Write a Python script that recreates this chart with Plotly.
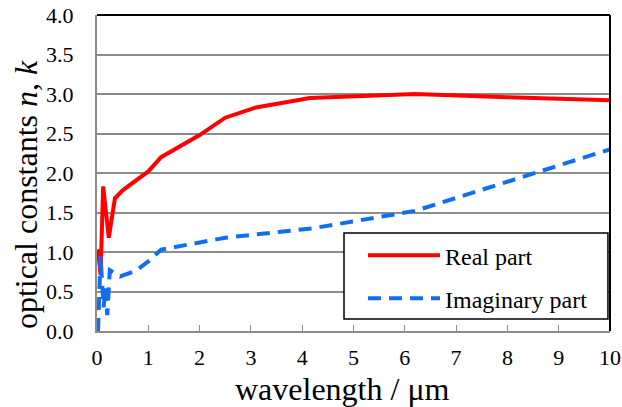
import plotly.graph_objects as go

wl_n = [0.0, 0.025, 0.07, 0.12, 0.23, 0.35, 0.5, 0.75, 1.0, 1.25, 2.0, 2.5, 3.1, 4.15, 6.2, 8.0, 10.0]
n_vals = [1.03, 1.0, 0.71, 1.83, 1.18, 1.68, 1.78, 1.9, 2.02, 2.2, 2.48, 2.7, 2.83, 2.95, 3.0, 2.96, 2.92]

wl_k = [0.02, 0.04, 0.07, 0.1, 0.13, 0.16, 0.2, 0.25, 0.45, 0.75, 1.0, 1.25, 2.0, 2.5, 4.2, 6.2, 10.0]
k_vals = [0.0, 0.45, 0.95, 0.6, 0.3, 0.55, 0.2, 0.77, 0.69, 0.76, 0.88, 1.03, 1.12, 1.18, 1.3, 1.52, 2.3]

x_ticks = list(range(0, 11))
y_ticks = [0.0, 0.5, 1.0, 1.5, 2.0, 2.5, 3.0, 3.5, 4.0]

x_title = "wavelength / μm"
y_title = "optical constants <i>n</i>, <i>k</i>"

FONT = "Liberation Serif"

fig = go.Figure()
fig.add_trace(go.Scatter(x=wl_n, y=n_vals, mode="lines", name="Real part",
                         line=dict(color="#FF0000", width=4), legendgroup="a"))
fig.add_trace(go.Scatter(x=wl_k, y=k_vals, mode="lines", name="Imaginary part",
                         line=dict(color="#126EF0", width=4, dash="13px,8px"), legendgroup="b"))

fig.update_layout(
    width=622, height=407,
    margin=dict(l=97, r=12, t=15, b=76, autoexpand=False),
    paper_bgcolor="white", plot_bgcolor="white",
    font=dict(family=FONT, color="black", size=22),
    showlegend=True,
    legend=dict(x=0.5185, y=0.31, xanchor="left", yanchor="top",
                bgcolor="rgba(0,0,0,0)", borderwidth=0,
                font=dict(family=FONT, size=24), tracegroupgap=9,
                traceorder="grouped", itemwidth=72),
    xaxis=dict(range=[0, 10], tickvals=x_ticks, ticktext=[str(v) for v in x_ticks],
               showgrid=False, zeroline=False, showline=True, linecolor="#8c8c8c", linewidth=2,
               ticks="inside", ticklen=6, tickcolor="#8c8c8c", tickwidth=1, automargin=False,
               tickfont=dict(size=22, family=FONT), ticklabelstandoff=6),
    yaxis=dict(range=[0, 4], tickvals=y_ticks, ticktext=[f"{v:.1f}" for v in y_ticks],
               showgrid=True, gridcolor="#8c8c8c", gridwidth=1.5, zeroline=False,
               showline=True, linecolor="#8c8c8c", linewidth=2, ticks="", automargin=False,
               tickfont=dict(size=22, family=FONT), ticklabelstandoff=17),
)
fig.add_annotation(text=x_title, xref="paper", yref="paper", x=0.4776, y=0,
                   xanchor="center", yanchor="middle", yshift=-58, showarrow=False,
                   font=dict(size=32, family=FONT, color="black"))
fig.add_annotation(text=y_title, xref="paper", yref="paper", x=0, y=0.43,
                   xanchor="center", yanchor="middle", xshift=-71, textangle=-90,
                   showarrow=False, font=dict(size=32, family=FONT, color="black"))
fig.add_shape(type="line", xref="paper", yref="paper", x0=0, x1=1, y0=1, y1=1,
              line=dict(color="black", width=2))
fig.add_shape(type="line", xref="paper", yref="paper", x0=1, x1=1, y0=0, y1=1,
              line=dict(color="black", width=2))
fig.add_shape(type="rect", xref="paper", yref="paper", x0=0.4815, x1=0.996, y0=0.038, y1=0.31,
              line=dict(color="black", width=1.5), fillcolor="white", layer="above")

fig.write_html("out.html", post_script="document.body.style.margin='0px';",
               config={"displayModeBar": False})
